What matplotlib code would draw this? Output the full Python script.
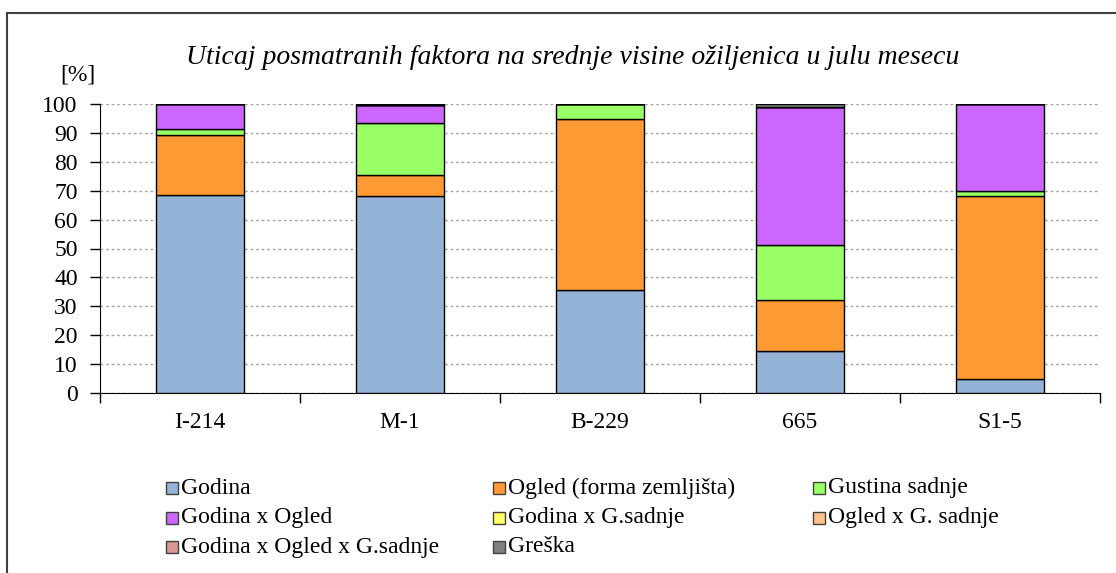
import matplotlib
matplotlib.use('Agg')
import matplotlib.pyplot as plt
import matplotlib.patches as patches
from matplotlib.lines import Line2D
import numpy as np

plt.rcParams['font.family'] = ['Liberation Serif', 'DejaVu Serif']

categories = ['I-214', 'M-1', 'B-229', '665', 'S1-5']
series_names = ['Godina', 'Ogled (forma zemljišta)', 'Gustina sadnje',
                'Godina x Ogled', 'Godina x G.sadnje', 'Ogled x G. sadnje',
                'Godina x Ogled x G.sadnje', 'Greška']
godina = [68.5, 68.2, 35.5, 14.4, 4.8]
ogled = [20.7, 7.3, 59.3, 17.7, 63.4]
gustina = [2.1, 17.9, 5.2, 19.0, 1.7]
god_ogled = [8.6, 6.1, 0.0, 47.9, 30.1]
god_gsad = [0.0, 0.0, 0.0, 0.0, 0.0]
ogled_gsad = [0.0, 0.1, 0.0, 0.0, 0.0]
god_ogled_gsad = [0.0, 0.1, 0.0, 0.0, 0.0]
greska = [0.1, 0.3, 0.0, 1.0, 0.0]
colors = ['#95B3D7', '#FF9933', '#99FF66', '#CC66FF', '#FFFF66', '#FFC08C', '#D99795', '#808080']

values = [godina, ogled, gustina, god_ogled, god_gsad, ogled_gsad, god_ogled_gsad, greska]

fig = plt.figure(figsize=(11.16, 5.73), dpi=100)
ax = fig.add_axes([100/1116, 1-393/573, 1000/1116, 289/573])

x = np.arange(len(categories))
bottom = np.zeros(len(categories))
for vals, c in zip(values, colors):
    vals = np.array(vals)
    ax.bar(x, vals, 0.44, bottom=bottom, color=c, edgecolor='black', linewidth=1, zorder=3)
    bottom += vals

ax.set_xlim(-0.5, 4.5)
ax.set_ylim(0, 100)
ax.set_yticks(np.arange(0, 101, 10))
ax.set_xticks(x)
ax.set_xticklabels(categories)
ax.set_xticks(np.arange(-0.5, 4.6, 1), minor=True)
ax.tick_params(axis='x', which='major', length=0, pad=14, labelsize=17)
ax.tick_params(axis='x', which='minor', length=7, width=1, direction='out')
ax.tick_params(axis='y', length=7, width=1, direction='out', labelsize=17, pad=9)
for sp in ['top', 'right']:
    ax.spines[sp].set_visible(False)
ax.yaxis.grid(True, linestyle=(0, (2, 2)), color='#A6A6A6', linewidth=1, zorder=0)
ax.set_axisbelow(True)

fig.text(573/1116, 1-64/573, 'Uticaj posmatranih faktora na srednje visine ožiljenica u julu mesecu',
         ha='center', va='baseline', fontsize=20, style='italic')
fig.text(78/1116, 1-75/573, '[%]', ha='center', va='center', fontsize=17)

# legend laid out in three columns
col_x = [166, 493, 813]
row_y = [488, 518, 547]
for i, (name, c) in enumerate(zip(series_names, colors)):
    cx = col_x[i % 3]
    cy = row_y[i // 3]
    fig.add_artist(patches.Rectangle((cx/1116, 1-(cy+6)/573), 12/1116, 12/573,
                                     facecolor=c, edgecolor='#404040', linewidth=1,
                                     transform=fig.transFigure))
    fig.text((cx+15)/1116, 1-cy/573, name, ha='left', va='center', fontsize=17)

# outer frame (left and top edges visible)
fig.add_artist(Line2D([7/1116, 7/1116], [0, 1-13/573], color='#404040', linewidth=1.5))
fig.add_artist(Line2D([7/1116, 1], [1-13/573, 1-13/573], color='#404040', linewidth=1.5))

fig.savefig('out.png', dpi=100)
